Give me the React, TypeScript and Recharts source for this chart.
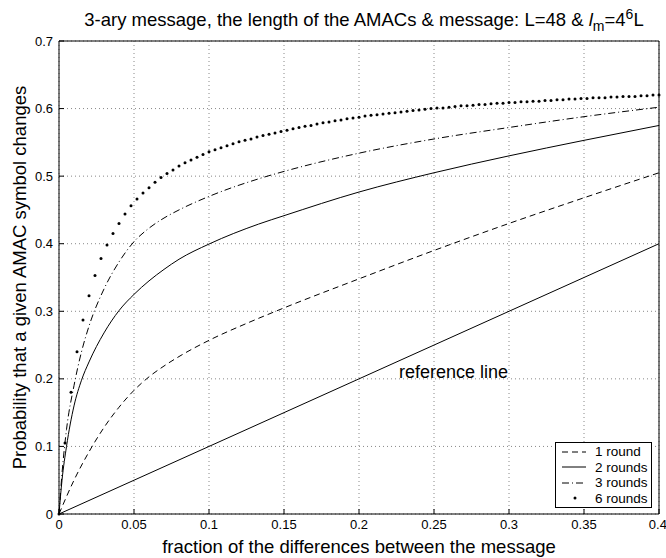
import React from "react";
import {
  LineChart,
  Line,
  XAxis,
  YAxis,
  CartesianGrid,
  ReferenceLine,
  ReferenceDot,
  Legend
} from "recharts";

// x positions of the "6 rounds" markers
const sixRoundsX = [
  0, 0.004, 0.008, 0.012, 0.016, 0.02, 0.024, 0.028, 0.032, 0.036, 0.04,
  0.044, 0.048, 0.052, 0.056, 0.06, 0.064, 0.068, 0.072, 0.076, 0.08,
  0.084, 0.088, 0.092, 0.096, 0.1, 0.104, 0.108, 0.112, 0.116, 0.12,
  0.124, 0.128, 0.132, 0.136, 0.14, 0.144, 0.148, 0.152, 0.156, 0.16,
  0.164, 0.168, 0.172, 0.176, 0.18, 0.184, 0.188, 0.192, 0.196, 0.2,
  0.204, 0.208, 0.212, 0.216, 0.22, 0.224, 0.228, 0.232, 0.236, 0.24,
  0.244, 0.248, 0.252, 0.256, 0.26, 0.264, 0.268, 0.272, 0.276, 0.28,
  0.284, 0.288, 0.292, 0.296, 0.3, 0.304, 0.308, 0.312, 0.316, 0.32,
  0.324, 0.328, 0.332, 0.336, 0.34, 0.344, 0.348, 0.352, 0.356, 0.36,
  0.364, 0.368, 0.372, 0.376, 0.38, 0.384, 0.388, 0.392, 0.396, 0.4
];
const sixRoundsY = [
  0, 0.105, 0.18, 0.24, 0.287, 0.323, 0.353, 0.378, 0.398, 0.415, 0.43,
  0.444, 0.456, 0.466, 0.475, 0.483, 0.491, 0.498, 0.504, 0.509, 0.515,
  0.52, 0.524, 0.528, 0.532, 0.536, 0.539, 0.542, 0.545, 0.548, 0.551,
  0.553, 0.555, 0.558, 0.56, 0.562, 0.564, 0.566, 0.568, 0.57, 0.572,
  0.574, 0.575, 0.577, 0.579, 0.58, 0.582, 0.583, 0.585, 0.586, 0.587,
  0.589, 0.59, 0.591, 0.592, 0.593, 0.594, 0.595, 0.596, 0.597, 0.598,
  0.599, 0.6, 0.601, 0.601, 0.602, 0.603, 0.604, 0.604, 0.605, 0.606,
  0.606, 0.607, 0.608, 0.608, 0.609, 0.609, 0.61, 0.61, 0.611, 0.611,
  0.612, 0.612, 0.613, 0.613, 0.614, 0.614, 0.615, 0.615, 0.616, 0.616,
  0.616, 0.617, 0.617, 0.618, 0.618, 0.618, 0.619, 0.619, 0.62, 0.62
];

// 1 round (dashed)
const oneRoundX = [0, 0.01, 0.02, 0.03, 0.04, 0.05, 0.06, 0.07, 0.08, 0.1, 0.125, 0.15, 0.2, 0.25, 0.3, 0.35, 0.4];
const oneRoundY = [0, 0.05, 0.092, 0.128, 0.158, 0.183, 0.203, 0.219, 0.233, 0.257, 0.282, 0.305, 0.348, 0.39, 0.43, 0.468, 0.505];

// 2 and 3 rounds share x positions
const roundsX = [0, 0.002, 0.005, 0.01, 0.015, 0.02, 0.03, 0.04, 0.05, 0.06, 0.07, 0.08, 0.1, 0.133, 0.15, 0.2, 0.25, 0.3, 0.35, 0.4];
const twoRoundsY = [0, 0.05, 0.1, 0.16, 0.198, 0.225, 0.268, 0.301, 0.325, 0.345, 0.362, 0.377, 0.3995, 0.429, 0.4415, 0.4765, 0.505, 0.53, 0.553, 0.575];
const threeRoundsY = [0, 0.06, 0.125, 0.19, 0.24, 0.278, 0.333, 0.373, 0.403, 0.423, 0.438, 0.45, 0.47, 0.496, 0.507, 0.534, 0.555, 0.572, 0.588, 0.602];

const referenceX = [0, 0.4];
const referenceY = [0, 0.4];

const xTicks = [0, 0.05, 0.1, 0.15, 0.2, 0.25, 0.3, 0.35, 0.4];
const yTicks = [0, 0.1, 0.2, 0.3, 0.4, 0.5, 0.6, 0.7];

const legendItems = [
  { label: "1 round", dash: "6 4" },
  { label: "2 rounds", dash: "" },
  { label: "3 rounds", dash: "7 3 1 3" },
  { label: "6 rounds", dash: "dot" }
];

const zip = (xs: number[], ys: number[]) => xs.map((x, i) => ({ x, y: ys[i] }));

const FONT = '"Liberation Sans", Arial, Helvetica, sans-serif';

const LegendBox = () => (
  <div
    style={{
      border: "1px solid #000",
      background: "#fff",
      padding: "1px 0",
      fontFamily: FONT,
      fontSize: 13.5,
      color: "#000",
      width: 95
    }}
  >
    {legendItems.map(item => (
      <div key={item.label} style={{ display: "flex", alignItems: "center", height: 15.5 }}>
        <svg width={36} height={10} style={{ marginLeft: 2 }}>
          {item.dash === "dot" ? (
            <circle cx={17} cy={5} r={1.5} fill="#000" />
          ) : (
            <line x1={4} y1={5} x2={28} y2={5} stroke="#000" strokeWidth={1} strokeDasharray={item.dash} />
          )}
        </svg>
        <span style={{ marginLeft: 1 }}>{item.label}</span>
      </div>
    ))}
  </div>
);

const App = () => {
  return (
    <div style={{ position: "absolute", left: 0, top: 0, width: 666, height: 558, background: "#fff", fontFamily: FONT }}>
      <div
        style={{
          position: "absolute",
          left: 64,
          top: 3,
          width: 600,
          textAlign: "center",
          fontSize: 18.5,
          lineHeight: "22px",
          color: "#000",
          whiteSpace: "nowrap"
        }}
      >
        3-ary message, the length of the AMACs &amp; message: L=48 &amp; <i>l</i>
        <sub style={{ fontSize: 14 }}>m</sub>=4<sup style={{ fontSize: 14 }}>6</sup>L
      </div>
      <LineChart width={666} height={558} margin={{ top: 41, right: 7, left: 0, bottom: 0 }}>
        <CartesianGrid strokeDasharray="1 3" stroke="#888" />
        <XAxis
          dataKey="x"
          type="number"
          domain={[0, 0.4]}
          ticks={xTicks}
          height={44}
          tickSize={-5}
          tickMargin={11}
          stroke="#000"
          tick={{ fontSize: 13, fill: "#000" }}
          label={{ value: "fraction of the differences between the message", position: "insideBottom", offset: 5, fontSize: 18.5, fill: "#000" }}
        />
        <XAxis
          xAxisId="top"
          orientation="top"
          type="number"
          domain={[0, 0.4]}
          ticks={xTicks}
          height={0}
          tickSize={-5}
          tickFormatter={() => ""}
          stroke="#000"
        />
        <YAxis
          type="number"
          domain={[0, 0.7]}
          ticks={yTicks}
          width={59}
          tickSize={-5}
          tickMargin={11}
          stroke="#000"
          tick={{ fontSize: 13, fill: "#000" }}
          label={{
            value: "Probability that a given AMAC symbol changes",
            angle: -90,
            position: "insideLeft",
            offset: 19,
            fontSize: 18.5,
            fill: "#000",
            style: { textAnchor: "middle" }
          }}
        />
        <YAxis
          yAxisId="right"
          orientation="right"
          type="number"
          domain={[0, 0.7]}
          ticks={yTicks}
          width={0}
          tickSize={-5}
          tickFormatter={() => ""}
          stroke="#000"
        />
        <ReferenceLine y={0.7} stroke="#000" />
        <ReferenceLine x={0.4} stroke="#000" />
        <Line
          data={zip(referenceX, referenceY)}
          dataKey="y"
          name="reference line"
          type="linear"
          stroke="#000"
          strokeWidth={1}
          dot={false}
          legendType="none"
          isAnimationActive={false}
        />
        <Line
          data={zip(oneRoundX, oneRoundY)}
          dataKey="y"
          name="1 round"
          type="monotone"
          stroke="#000"
          strokeWidth={1}
          strokeDasharray="6 4"
          dot={false}
          isAnimationActive={false}
        />
        <Line
          data={zip(roundsX, twoRoundsY)}
          dataKey="y"
          name="2 rounds"
          type="monotone"
          stroke="#000"
          strokeWidth={1}
          dot={false}
          isAnimationActive={false}
        />
        <Line
          data={zip(roundsX, threeRoundsY)}
          dataKey="y"
          name="3 rounds"
          type="monotone"
          stroke="#000"
          strokeWidth={1}
          strokeDasharray="7 3 1 3"
          dot={false}
          isAnimationActive={false}
        />
        <Line
          data={zip(sixRoundsX, sixRoundsY)}
          dataKey="y"
          name="6 rounds"
          type="linear"
          stroke="none"
          dot={{ r: 1.5, fill: "#000", stroke: "none" }}
          isAnimationActive={false}
        />
        <ReferenceDot
          x={0.263}
          y={0.21}
          r={0}
          stroke="none"
          label={{ value: "reference line", position: "center", fontSize: 18, fill: "#000" }}
        />
        <Legend
          layout="horizontal"
          align="center"
          verticalAlign="middle"
          wrapperStyle={{ left: 555, top: 442, width: 97, height: 66 }}
          content={() => <LegendBox />}
        />
      </LineChart>
    </div>
  );
};

export default App;
